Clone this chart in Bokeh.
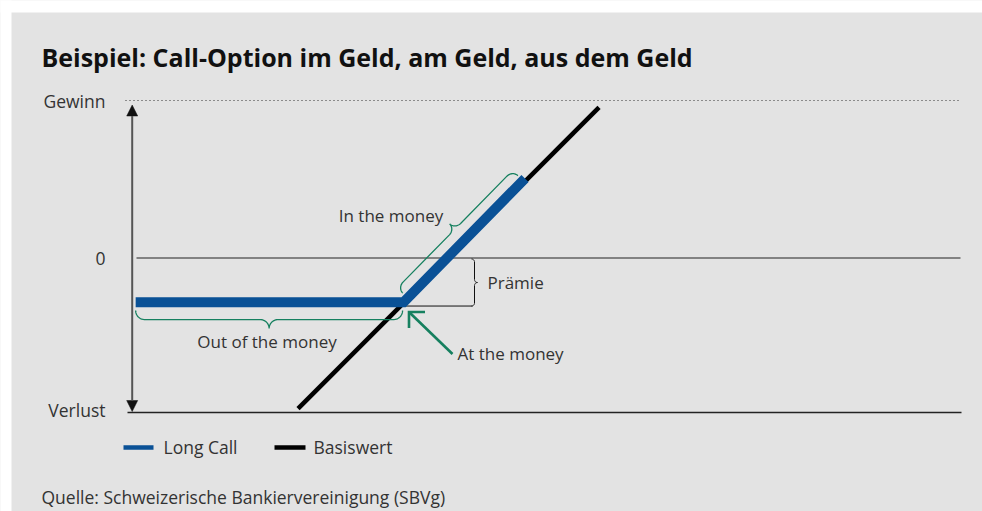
import numpy as np
from bokeh.plotting import figure
from bokeh.models import Range1d, Arrow, NormalHead
from bokeh.core.properties import value
from bokeh.embed import file_html
from bokeh.resources import INLINE

# ---------------- data (schematic units: price on x, profit on y) ----------------
level_labels = ["Gewinn", "0", "Verlust"]
level_values = [10.0, 0.0, -9.81]

underlying_x = [10.53, 29.64]
underlying_y = [-9.56, 9.56]

long_call_x = [0.22, 17.23, 24.94]
long_call_y = [-2.81, -2.81, 5.05]

strike = 17.23
premium = 3.05

legend_labels = ["Long Call", "Basiswert"]
zone_labels = ["In the money", "Out of the money", "At the money", "Prämie"]
title_text = "Beispiel: Call-Option im Geld, am Geld, aus dem Geld"
source_text = "Quelle: Schweizerische Bankiervereinigung (SBVg)"

# ---------------- layout helpers (pixel -> data) ----------------
W, H = 982, 511
S = 15.75          # pixels per unit
X0, Y0 = 131.7, 257.5


def X(px):
    return (px - X0) / S


def Y(py):
    return (Y0 - py) / S


def px(d):
    return d / S


BLUE = "#0a5196"
GREEN = "#16805f"
GREY_BG = "#e3e3e3"
TXT = "#333333"
FONT = value("Open Sans")

p = figure(width=W, height=H, x_range=Range1d(X(0), X(W)), y_range=Range1d(Y(H), Y(0)),
           output_backend="svg", toolbar_location=None, min_border=0,
           x_axis_location=None, y_axis_location=None,
           background_fill_color=GREY_BG, border_fill_color=GREY_BG,
           outline_line_color=None)
p.xgrid.visible = False
p.ygrid.visible = False

# white margins at top and left (panel is grey)
p.quad(left=X(-5), right=X(W + 5), top=Y(-5), bottom=Y(12), fill_color="white", line_color=None)
p.quad(left=X(-5), right=X(11), top=Y(-5), bottom=Y(H + 5), fill_color="white", line_color=None)

gain, zero, loss = level_values
x_axis_end = X(960)

# gain dotted line, zero line, loss line
p.line([X(125), X(958)], [gain, gain], line_color="#333333", line_width=1, line_dash="1 3")
p.line([X(136), x_axis_end], [zero, zero], line_color="#222222", line_width=1.1)
p.line([X(127), X(961)], [loss, loss], line_color="#222222", line_width=1.4)

# vertical double arrow
p.add_layout(Arrow(start=NormalHead(size=11, fill_color="#111111", line_color="#111111", line_width=0.5),
                   end=NormalHead(size=11, fill_color="#111111", line_color="#111111", line_width=0.5),
                   x_start=0, y_start=loss + px(1), x_end=0, y_end=gain - px(4.5),
                   line_color="#555555", line_width=2))

# level labels
p.text(x=[X(105)] * 3, y=[gain - px(0), zero - px(0.5), loss + px(3)], text=level_labels,
       text_align="right", text_baseline="middle", text_font=FONT, text_font_size="17.5px",
       text_color=TXT)

# premium line + brace
p.line([strike, X(472)], [-premium, -premium], line_color="#111111", line_width=1)


def brace(p0, p1, n, h, r, npts=24):
    p0 = np.asarray(p0, float)
    p1 = np.asarray(p1, float)
    L = np.linalg.norm(p1 - p0)
    u = (p1 - p0) / L
    n = np.asarray(n, float)
    n = n / np.linalg.norm(n)
    th = np.linspace(0, np.pi / 2, npts)
    t1 = r * (1 - np.cos(th))
    f1 = h * np.sin(th)
    t3 = L / 2 - r + r * np.sin(th)
    f3 = h + h * (1 - np.cos(th))
    t = np.concatenate([t1, t3])
    f = np.concatenate([f1, f3])
    tt = np.concatenate([t, (L - t)[::-1]])
    ff = np.concatenate([f, f[::-1]])
    pts = p0[None, :] + np.outer(tt, u) + np.outer(ff, n)
    return pts[:, 0], pts[:, 1]


bx, by = brace((X(471), zero - px(1)), (X(471), -premium), (1, 0), px(3), px(3))
p.line(bx, by, line_color="#111111", line_width=1)

# underlying (black)
p.line(underlying_x, underlying_y, line_color="black", line_width=4.5, line_cap="butt")

# long call (blue)
p.line(long_call_x, long_call_y, line_color=BLUE, line_width=10, line_cap="butt", line_join="miter")

# out of the money brace
bx, by = brace((long_call_x[0] + px(0), long_call_y[0] - px(8.3)),
               (long_call_x[1] - px(1), long_call_y[1] - px(8.3)), (0, -1), px(9), px(9))
p.line(bx, by, line_color=GREEN, line_width=1.3)

# in the money brace
K = np.array([long_call_x[1], long_call_y[1]])
E = np.array([long_call_x[2], long_call_y[2]])
u = (E - K) / np.linalg.norm(E - K)
nrm = np.array([-u[1], u[0]])
b0 = K + u * px(6) + nrm * px(7)
b1 = E - u * px(3) + nrm * px(7)
bx, by = brace(b0, b1, nrm, px(7.5), px(8))
p.line(bx, by, line_color=GREEN, line_width=1.3)

# at the money arrow (open head)
tip = (X(408.5), Y(311.5))
p.line([X(452), tip[0]], [Y(353.5), tip[1]], line_color=GREEN, line_width=2.6)
p.line([X(424.5), tip[0], tip[0]], [tip[1], tip[1], Y(327.5)], line_color=GREEN, line_width=2.6,
       line_join="miter")

# zone labels
p.text(x=[X(390.5)], y=[Y(215)], text=[zone_labels[0]], text_align="center", text_baseline="middle",
       text_font=FONT, text_font_size="17px", text_color=TXT)
p.text(x=[X(266.5)], y=[Y(341)], text=[zone_labels[1]], text_align="center", text_baseline="middle",
       text_font=FONT, text_font_size="17px", text_color=TXT)
p.text(x=[X(457)], y=[Y(353)], text=[zone_labels[2]], text_align="left", text_baseline="middle",
       text_font=FONT, text_font_size="17px", text_color=TXT)
p.text(x=[X(487)], y=[Y(282)], text=[zone_labels[3]], text_align="left", text_baseline="middle",
       text_font=FONT, text_font_size="17px", text_color=TXT)

# legend
p.line([X(123), X(153)], [Y(447), Y(447)], line_color=BLUE, line_width=4.5)
p.line([X(274), X(305)], [Y(447), Y(447)], line_color="black", line_width=4.5)
p.text(x=[X(163), X(313)], y=[Y(446), Y(446)], text=legend_labels, text_align="left",
       text_baseline="middle", text_font=FONT, text_font_size="17.5px", text_color=TXT)

# title and source
p.text(x=[X(41)], y=[Y(56)], text=[title_text], text_align="left", text_baseline="middle",
       text_font=FONT, text_font_size="25px", text_font_style="bold", text_color="#111111")
p.text(x=[X(41)], y=[Y(496)], text=[source_text], text_align="left", text_baseline="middle",
       text_font=FONT, text_font_size="17.5px", text_color=TXT)

open("out.html", "w").write(file_html(p, INLINE))
